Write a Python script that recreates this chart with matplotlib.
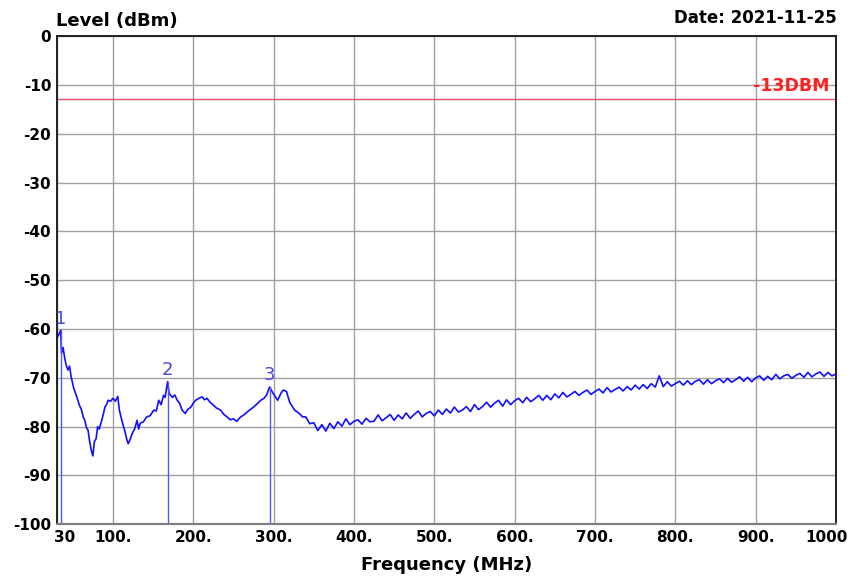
import numpy as np
import matplotlib
matplotlib.use('Agg')
import matplotlib.pyplot as plt
import matplotlib.transforms as mtransforms

# trace below 340 MHz, read point by point
freq_low = [30, 33, 35, 36, 38, 40, 42, 44, 46, 48, 51, 55, 58, 61, 63, 65, 67, 69, 71, 73,
            75, 77, 79, 81, 83, 86, 88, 90, 92, 94, 97, 100, 103, 106, 108, 110, 112, 115, 117, 119,
            121, 124, 127, 130, 132, 134, 138, 142, 146, 151, 154, 157, 160, 163, 165, 168, 170, 174, 177, 180,
            183, 186, 190, 193, 197, 200, 203, 207, 211, 214, 217, 221, 225, 229, 234, 238, 242, 246, 250, 254,
            259, 263, 267, 271, 275, 279, 284, 288, 291, 295, 298, 301, 305, 309, 312, 316, 320, 326, 332, 336]
level_low = [-62.0, -61.0, -60.3, -65.0, -63.8, -66.0, -67.5, -68.4, -67.6, -69.8, -72.0, -73.9, -75.5, -76.6, -78.0, -78.7, -80.2, -80.7, -83.0, -84.8,
             -86.0, -83.0, -82.5, -80.0, -80.5, -78.7, -77.5, -76.0, -75.5, -74.6, -74.8, -74.2, -74.8, -73.8, -76.6, -78.0, -79.3, -81.0, -82.5, -83.5,
             -82.8, -81.4, -80.5, -78.7, -80.5, -79.3, -79.0, -78.0, -77.8, -76.6, -76.8, -74.6, -75.5, -73.6, -74.0, -70.8, -73.2, -74.0, -73.5, -74.6,
             -75.2, -76.6, -77.3, -76.5, -76.0, -75.2, -74.6, -74.2, -73.9, -74.5, -74.2, -75.0, -75.6, -76.2, -76.6, -77.5, -78.0, -78.6, -78.4, -78.9,
             -78.0, -77.6, -77.0, -76.5, -76.0, -75.4, -74.6, -74.2, -73.6, -71.9, -72.8, -73.6, -74.6, -73.2, -72.5, -72.8, -75.0, -76.6, -77.3, -78.0]

# trace 340..1000 MHz, every 5 MHz
freq_high = np.arange(340, 1001, 5)
level_high = [-78.0, -79.4, -79.2, -80.8, -79.6, -80.9, -79.3, -80.4, -79.0, -79.9,
              -78.4, -79.6, -78.9, -78.6, -79.5, -78.3, -79.0, -78.9, -77.6, -78.8,
              -78.2, -77.5, -78.7, -77.6, -78.4, -77.2, -78.3, -77.5, -76.8, -78.0,
              -77.3, -76.9, -77.8, -76.6, -77.5, -76.4, -77.2, -76.0, -77.0, -76.6,
              -75.9, -76.9, -75.5, -76.5, -75.9, -75.0, -76.0, -75.2, -74.6, -75.8,
              -74.5, -75.5, -74.7, -74.2, -75.1, -74.0, -74.9, -74.3, -73.6, -74.6,
              -73.6, -74.5, -73.3, -74.1, -73.0, -73.9, -73.4, -72.8, -73.6, -73.0,
              -72.5, -73.4, -72.8, -72.3, -73.1, -72.0, -72.9, -72.4, -71.9, -72.7,
              -71.8, -72.5, -71.5, -72.3, -71.4, -72.2, -71.2, -71.9, -69.6, -71.8,
              -70.8, -71.7, -71.2, -70.7, -71.5, -70.6, -71.4, -70.7, -70.4, -71.3,
              -70.4, -71.2, -70.6, -70.2, -71.0, -70.1, -70.9, -70.4, -69.8, -70.7,
              -69.9, -70.8, -70.0, -69.6, -70.5, -69.7, -70.4, -69.3, -70.2, -69.6,
              -69.3, -70.1, -69.5, -69.1, -69.9, -68.9, -69.8, -69.2, -68.8, -69.7,
              -68.9, -69.6, -69.2]

marker_freq = [35, 168, 295]
marker_level = [-60.3, -70.8, -71.9]
marker_names = ['1', '2', '3']

limit_level = -13
limit_name = '-13DBM'

x_ticks = [30, 100, 200, 300, 400, 500, 600, 700, 800, 900, 1000]
x_tick_labels = ['30', '100.', '200.', '300.', '400.', '500.', '600.', '700.', '800.', '900.', '1000']
y_ticks = [0, -10, -20, -30, -40, -50, -60, -70, -80, -90, -100]

freqs = np.concatenate([freq_low, freq_high])
levels = np.concatenate([level_low, level_high])

fig = plt.figure(figsize=(8.55, 5.81), dpi=100)
ax = fig.add_axes([0.0663, 0.0976, 0.9115, 0.8404])

ax.set_xlim(30, 1000)
ax.set_ylim(-100, 0)
ax.grid(True, color='#a0a0a0', linewidth=1.0)
ax.set_axisbelow(True)

ax.plot(freqs, levels, color='#1010ff', linewidth=1.2)
ax.axhline(limit_level, color='#f04870', linewidth=1.0)
ax.text(992, limit_level + 2.8, limit_name, color='#ff2020', fontsize=12.5,
        fontweight='bold', ha='right', va='center')

for f, lv, name in zip(marker_freq, marker_level, marker_names):
    ax.plot([f, f], [-100, lv], color='#5555ff', linewidth=1.0)
    ax.text(f, lv + 0.6, name, color='#4848e0', fontsize=13, ha='center', va='bottom')

ax.set_xticks(x_ticks)
ax.set_xticklabels(x_tick_labels)
ax.set_yticks(y_ticks)
ax.set_yticklabels([str(v) for v in y_ticks])
ax.tick_params(length=0, labelsize=11, pad=4)
for lbl in ax.get_xticklabels() + ax.get_yticklabels():
    lbl.set_fontweight('bold')

xl = ax.get_xticklabels()
xl[0].set_horizontalalignment('left')
xl[0].set_transform(xl[0].get_transform() + mtransforms.ScaledTranslation(-2 / 72, 0, fig.dpi_scale_trans))
xl[-1].set_transform(xl[-1].get_transform() + mtransforms.ScaledTranslation(-7 / 72, 0, fig.dpi_scale_trans))

for side in ['left', 'top', 'right']:
    ax.spines[side].set_color('#202020')
    ax.spines[side].set_linewidth(1.4)
ax.spines['bottom'].set_color('#808080')
ax.spines['bottom'].set_linewidth(1.6)

ax.set_xlabel('Frequency (MHz)', fontsize=13, fontweight='bold', labelpad=8)
fig.text(0.066, 0.948, 'Level (dBm)', fontsize=13, fontweight='bold', ha='left', va='bottom')
fig.text(0.979, 0.953, 'Date: 2021-11-25', fontsize=12, fontweight='bold', ha='right', va='bottom')

plt.savefig('out.png', dpi=100)
